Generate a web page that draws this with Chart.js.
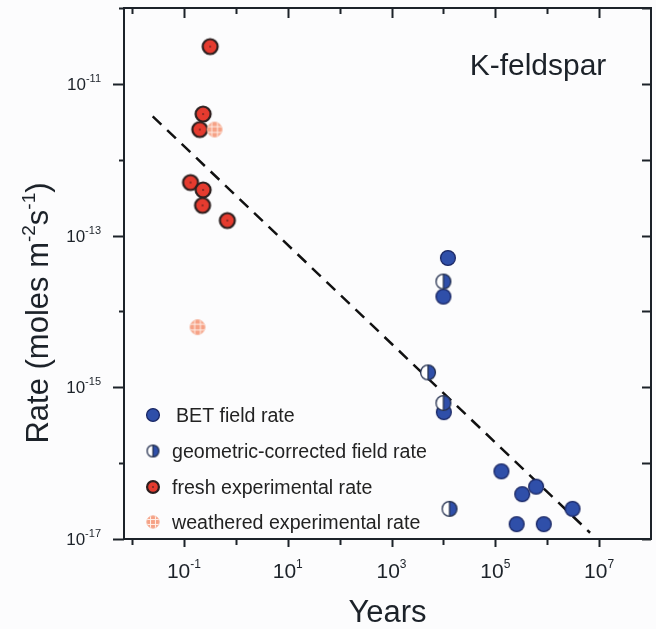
<!DOCTYPE html>
<html>
<head>
<meta charset="utf-8">
<script src="https://cdn.jsdelivr.net/npm/chart.js@4.4.1/dist/chart.umd.min.js"></script>
<style>
  html, body { margin: 0; padding: 0; background: #fcfcfd; }
  #chart { display: block; }
</style>
</head>
<body>
<canvas id="chart" width="656" height="629"></canvas>
<script>
// data (years vs rate)
const freshYears = [0.32, 0.234, 0.202, 0.134, 0.234, 0.228, 0.686];
const freshRate = [3.1e-11, 4.0e-12, 2.5e-12, 5.0e-13, 4.0e-13, 2.5e-13, 1.58e-13];

const weatheredYears = [0.39, 0.183];
const weatheredRate = [2.5e-12, 6.2e-15];

const betYears = [1.22e4, 1.0e4, 1.02e4, 1.31e5, 6.1e5, 3.3e5, 3.08e6, 2.58e5, 8.6e5];
const betRate = [5.07e-14, 1.57e-14, 4.7e-16, 7.8e-17, 4.9e-17, 3.9e-17, 2.5e-17, 1.57e-17, 1.57e-17];

const geoYears = [1.0e4, 5.06e3, 1.0e4, 1.31e4];
const geoRate = [2.48e-14, 1.57e-15, 6.2e-16, 2.5e-17];

const fitYears = [0.025, 6.7e6];
const fitRate = [3.73e-12, 1.21e-17];

const xDecades = [-2, -1, 0, 1, 2, 3, 4, 5, 6, 7];
const yDecades = [-17, -16, -15, -14, -13, -12, -11, -10];
const xLabeled = [-1, 1, 3, 5, 7];
const yLabeled = [-17, -15, -13, -11];

const legendNames = ['BET field rate', 'geometric-corrected field rate', 'fresh experimental rate', 'weathered experimental rate'];

const FONT = '"Liberation Sans", Arial, sans-serif';
const INK = '#1c2229';

function pts(xs, ys) {
  return xs.map((x, i) => ({ x: x, y: ys[i] }));
}

// marker images
function marker(kind, r) {
  const s = Math.ceil(r * 2 + 4);
  const c = document.createElement('canvas');
  c.width = s; c.height = s;
  const g = c.getContext('2d');
  const m = s / 2;
  if (kind === 'bet') {
    g.beginPath(); g.arc(m, m, r - 0.6, 0, Math.PI * 2);
    g.fillStyle = '#2f4fa9'; g.fill();
    g.lineWidth = 1.3; g.strokeStyle = '#1a2764'; g.stroke();
  } else if (kind === 'geo') {
    g.beginPath(); g.arc(m, m, r - 0.6, 0, Math.PI * 2);
    g.fillStyle = '#ffffff'; g.fill();
    g.beginPath(); g.arc(m, m, r - 0.6, -Math.PI / 2, Math.PI / 2);
    g.closePath(); g.fillStyle = '#2f4fa9'; g.fill();
    g.beginPath(); g.arc(m, m, r - 0.6, 0, Math.PI * 2);
    g.lineWidth = 1.3; g.strokeStyle = '#24304f'; g.stroke();
    g.beginPath(); g.moveTo(m, m - r + 0.6); g.lineTo(m, m + r - 0.6); g.stroke();
  } else if (kind === 'fresh') {
    g.beginPath(); g.arc(m, m, r - 1.1, 0, Math.PI * 2);
    g.fillStyle = '#e53b2f'; g.fill();
    g.lineWidth = 2.2; g.strokeStyle = '#2b1f1f'; g.stroke();
    g.fillStyle = '#3a1a1a'; g.fillRect(m - 0.7, m - 0.7, 1.4, 1.4);
  } else {
    g.beginPath(); g.arc(m, m, r - 0.6, 0, Math.PI * 2);
    g.fillStyle = '#f6a185'; g.fill();
    g.lineWidth = 1; g.strokeStyle = '#f4b39c'; g.stroke();
    g.save(); g.clip();
    g.strokeStyle = '#fff1ea'; g.lineWidth = 1;
    const d = r * 0.36;
    [-d, d].forEach(o => {
      g.beginPath(); g.moveTo(m + o, 0); g.lineTo(m + o, s); g.stroke();
      g.beginPath(); g.moveTo(0, m + o); g.lineTo(s, m + o); g.stroke();
    });
    g.restore();
  }
  return c;
}

const mk = {
  bet: marker('bet', 8),
  geo: marker('geo', 8),
  fresh: marker('fresh', 8.6),
  weathered: marker('weathered', 8)
};
const legendMk = [marker('bet', 7), marker('geo', 6.5), marker('fresh', 7), marker('weathered', 6.8)];

// text with superscript parts: [[text, isSup], ...]
function partsWidth(ctx, parts, size, supSize) {
  let w = 0;
  parts.forEach(p => {
    ctx.font = (p[1] ? supSize : size) + 'px ' + FONT;
    w += ctx.measureText(p[0]).width;
  });
  return w;
}
function drawParts(ctx, parts, x, y, size, supSize, rise) {
  parts.forEach(p => {
    ctx.font = (p[1] ? supSize : size) + 'px ' + FONT;
    ctx.fillText(p[0], x, p[1] ? y - rise : y);
    x += ctx.measureText(p[0]).width;
  });
}

const decorPlugin = {
  id: 'decor',
  afterDraw(chart) {
    const ctx = chart.ctx;
    const a = chart.chartArea;
    const xs = chart.scales.x, ys = chart.scales.y;
    ctx.save();
    ctx.strokeStyle = INK;
    ctx.fillStyle = INK;
    ctx.lineWidth = 2;
    ctx.strokeRect(a.left, a.top, a.right - a.left, a.bottom - a.top);

    // x ticks: outward at the bottom, inward at the top
    xDecades.forEach(k => {
      const px = Math.round(xs.getPixelForValue(Math.pow(10, k))) + 0.5;
      const major = xLabeled.includes(k);
      ctx.lineWidth = 2;
      ctx.beginPath();
      ctx.moveTo(px, a.bottom); ctx.lineTo(px, a.bottom + (major ? 8 : 6));
      ctx.moveTo(px, a.top); ctx.lineTo(px, a.top + (major ? 10 : 6));
      ctx.stroke();
    });
    // y ticks: outward at the left, inward at the right
    yDecades.forEach(k => {
      const py = Math.round(ys.getPixelForValue(Math.pow(10, k))) + 0.5;
      const major = yLabeled.includes(k);
      ctx.beginPath();
      ctx.moveTo(a.left, py); ctx.lineTo(a.left - (major ? 11 : 5), py);
      ctx.moveTo(a.right, py); ctx.lineTo(a.right - 9, py);
      ctx.stroke();
    });

    ctx.textBaseline = 'alphabetic';
    ctx.textAlign = 'left';
    // x tick labels
    xLabeled.forEach(k => {
      const px = xs.getPixelForValue(Math.pow(10, k));
      const parts = [['10', false], [k < 0 ? '-' + (-k) : String(k), true]];
      const w = partsWidth(ctx, parts, 21, 12);
      drawParts(ctx, parts, px - w / 2, 578, 21, 12, 10);
    });
    // y tick labels
    yLabeled.forEach(k => {
      const py = ys.getPixelForValue(Math.pow(10, k));
      const parts = [['10', false], ['-' + (-k), true]];
      const w = partsWidth(ctx, parts, 17, 11);
      drawParts(ctx, parts, 101 - w, py + 6, 17, 11, 8);
    });

    // axis titles
    ctx.font = '31px ' + FONT;
    ctx.textAlign = 'center';
    ctx.fillText('Years', (a.left + a.right) / 2, 622);

    ctx.save();
    ctx.translate(48, 313);
    ctx.rotate(-Math.PI / 2);
    ctx.textAlign = 'left';
    const title = [['Rate (moles m', false], ['-2', true], ['s', false], ['-1', true], [')', false]];
    const tw = partsWidth(ctx, title, 31, 19);
    drawParts(ctx, title, -tw / 2, 0, 31, 19, 13);
    ctx.restore();

    // panel name
    ctx.font = '30px ' + FONT;
    ctx.textAlign = 'center';
    ctx.fillText('K-feldspar', 538, 75);

    // legend
    const rows = [415, 451, 487, 522];
    const textX = [176, 172, 172, 172];
    ctx.font = '19.6px ' + FONT;
    ctx.textAlign = 'left';
    ctx.fillStyle = '#222';
    legendNames.forEach((name, i) => {
      const im = legendMk[i];
      ctx.drawImage(im, 153 - im.width / 2, rows[i] - im.height / 2);
      ctx.fillText(name, textX[i], rows[i] + 7);
    });
    ctx.restore();
  }
};

new Chart(document.getElementById('chart'), {
  type: 'scatter',
  data: {
    datasets: [
      { label: 'geometric-corrected field rate', data: pts(geoYears, geoRate), pointStyle: mk.geo },
      { label: 'BET field rate', data: pts(betYears, betRate), pointStyle: mk.bet },
      { label: 'weathered experimental rate', data: pts(weatheredYears, weatheredRate), pointStyle: mk.weathered },
      { label: 'fresh experimental rate', data: pts(freshYears, freshRate), pointStyle: mk.fresh },
      {
        label: 'fit', type: 'line', data: pts(fitYears, fitRate),
        borderColor: '#111', borderWidth: 2.5, borderDash: [12, 8],
        pointRadius: 0, fill: false
      }
    ]
  },
  options: {
    responsive: false,
    animation: false,
    layout: { padding: { top: 8, right: 3, left: 0, bottom: 0 } },
    plugins: { legend: { display: false }, tooltip: { enabled: false } },
    scales: {
      x: {
        type: 'logarithmic', min: 0.007, max: 1e8,
        afterBuildTicks: s => { s.ticks = xDecades.map(k => ({ value: Math.pow(10, k) })); },
        afterFit: s => { s.height = 90; },
        ticks: { display: false },
        grid: { display: false },
        border: { display: false }
      },
      y: {
        type: 'logarithmic', min: 1e-17, max: 1e-10,
        afterBuildTicks: s => { s.ticks = yDecades.map(k => ({ value: Math.pow(10, k) })); },
        afterFit: s => { s.width = 124; },
        ticks: { display: false },
        grid: { display: false },
        border: { display: false }
      }
    }
  },
  plugins: [decorPlugin]
});
</script>
</body>
</html>
